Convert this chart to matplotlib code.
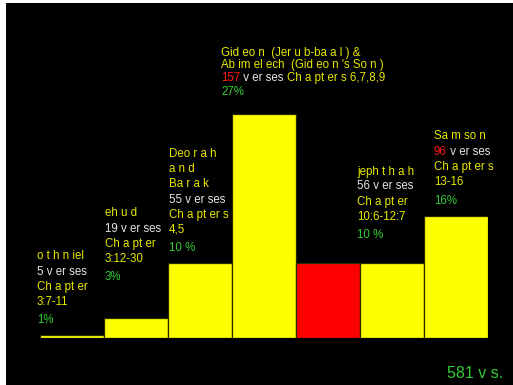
import matplotlib
matplotlib.use("Agg")
import matplotlib.pyplot as plt
from matplotlib.patches import Rectangle

# bar heights (roughly share of 581 verses, %)
judges = ["othniel", "ehud", "Deborah", "Gideon", "Abimelech", "jephthah", "Samson"]
heights = [0.4, 2.7, 10.0, 29.9, 10.0, 10.0, 16.3]
colors = ["#ffff00", "#ffff00", "#ffff00", "#ffff00", "#ff0000", "#ffff00", "#ffff00"]

W, H = 513, 385
YEL = "#e8e800"
WHT = "#e6e6e6"
GRN = "#33cc33"
RED = "#ff1a1a"


def px(x, y):
    return x / W, 1 - y / H


plt.rcParams["font.family"] = ["Liberation Sans", "DejaVu Sans"]
FS = 8.3

fig = plt.figure(figsize=(W / 100, H / 100), dpi=100, facecolor="white")
fig.patches.append(Rectangle((6 / W, 0), 1, 1 - 3 / H, transform=fig.transFigure,
                             facecolor="black", edgecolor="none", zorder=-10))

ax = fig.add_axes([40 / W, (H - 338) / H, 448 / W, 335 / H])
ax.set_zorder(1)
ax.set_facecolor("none")
ax.bar(range(len(heights)), heights, width=1.0, color=colors,
       edgecolor="#2a2a00", linewidth=0.9)
ax.set_xlim(-0.5, len(heights) - 0.5)
ax.set_ylim(0, 335 / 7.5)
ax.axis("off")


def block(x, lines):
    for y, txt, col in lines:
        fig.text(*px(x, y), txt, color=col, fontsize=FS, va="center", ha="left", zorder=5)


block(37, [(256, "o t h n iel", YEL), (272, "5 v er ses", WHT), (287, "Ch a pt er", YEL),
           (302, "3:7-11", YEL), (320, "1%", GRN)])
block(105, [(213, "eh u d", YEL), (229, "19 v er ses", WHT), (244, "Ch a pt er", YEL),
            (259, "3:12-30", YEL), (277, "3%", GRN)])
block(169, [(154, "Deo r a h", YEL), (169, "a n d", YEL), (184, "Ba r a k", YEL),
            (200, "55 v er ses", WHT), (215, "Ch a pt er s", YEL), (229, "4,5", YEL),
            (248, "10 %", GRN)])
block(221, [(53, "Gid eo n  (Jer u b-ba a l ) &", YEL),
            (65, "Ab im el ech  (Gid eo n 's So n )", YEL), (92, "27%", GRN)])
block(357, [(172, "jeph t h a h", YEL), (186, "56 v er ses", WHT), (202, "Ch a pt er", YEL),
            (217, "10:6-12:7", YEL), (235, "10 %", GRN)])
block(434, [(136, "Sa m so n", YEL), (167, "Ch a pt er s", YEL), (182, "13-16", YEL),
            (201, "16%", GRN)])


def chain(x, y, parts):
    prev = fig.text(*px(x, y), parts[0][0], color=parts[0][1], fontsize=FS,
                    va="center", ha="left", zorder=5)
    for txt, col in parts[1:]:
        prev = fig.add_artist(matplotlib.text.Annotation(
            txt, xy=(1, 0.5), xycoords=prev, color=col, fontsize=FS,
            va="center", ha="left", annotation_clip=False, zorder=5))


chain(221, 78, [("157", RED), (" v er ses ", WHT), ("Ch a pt er s 6,7,8,9", YEL)])
chain(434, 152, [("96", RED), (" v er ses", WHT)])

fig.text(*px(447, 373), "581 v s.", color=GRN, fontsize=11.5, va="center", ha="left", zorder=5)

fig.savefig("out.png", dpi=100, facecolor=fig.get_facecolor())
